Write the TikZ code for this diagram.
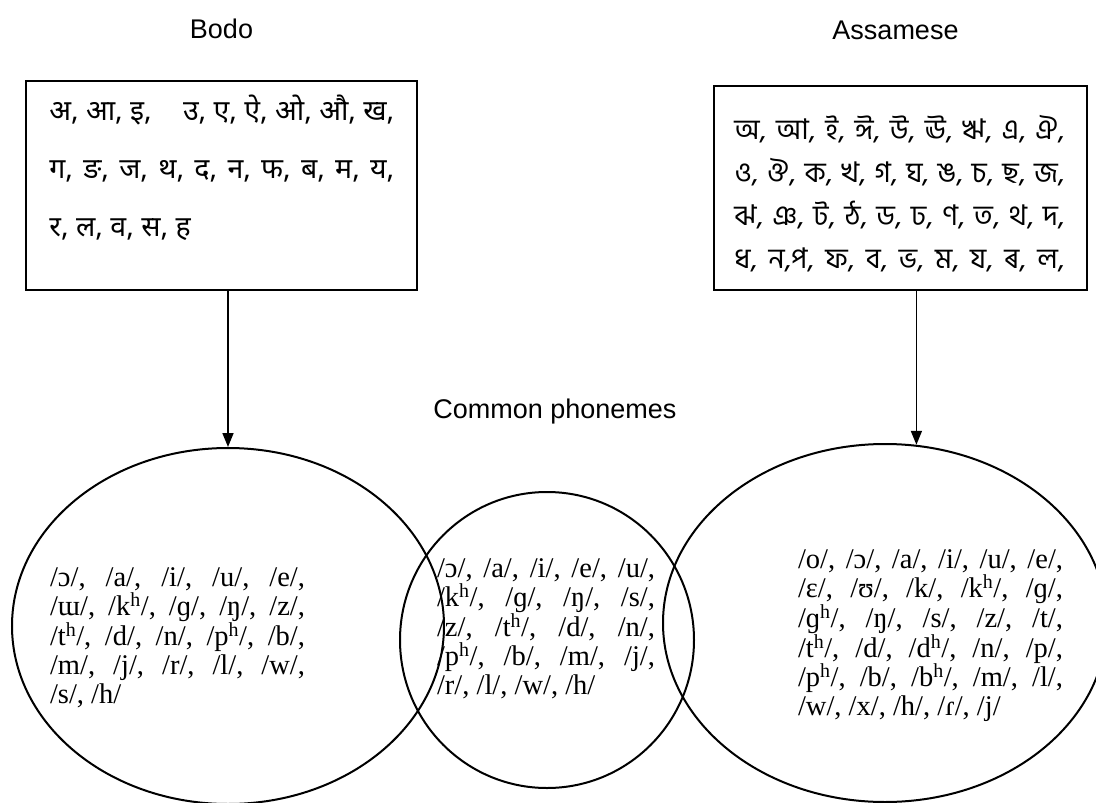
\documentclass[tikz,border=0pt]{standalone}
\usepackage{fontspec}
\setmainfont{Liberation Serif}
\newfontfamily\labelfont{Liberation Sans}
\newfontfamily\devfont[Script=Devanagari]{Noto Sans}
\newfontfamily\bengfont[Script=Bengali]{Hind Siliguri}
\usetikzlibrary{arrows.meta, positioning, shapes.geometric}

% aspirated mark and a row stretched to a fixed width
\newcommand{\asp}{\textsuperscript{h}}
\newcommand{\fillrow}[2]{\makebox[#1][s]{#2}}

\begin{document}
\begin{tikzpicture}[
        x=1pt, y=-1pt,
        setbox/.style={rectangle, draw, line width=1.7pt, inner sep=0pt},
        setring/.style={ellipse, draw, line width=2pt, inner sep=0pt},
        heading/.style={font=\labelfont\fontsize{27}{32}\selectfont, inner sep=0pt},
        devlist/.style={font=\devfont\fontsize{28.5}{58}\selectfont, align=left, inner sep=0pt},
        bnlist/.style={font=\bengfont\fontsize{28.5}{43}\selectfont, align=left, inner sep=0pt},
        phonlist/.style={font=\fontsize{28.5}{29}\selectfont, align=left, inner sep=0pt},
        link/.style={draw, line width=1.7pt, -{Triangle[length=14pt, width=11pt]}}
    ]
    \useasboundingbox (0,0) rectangle (1096,803);
    \clip (0,0) rectangle (1096,803);

    % letter inventories
    \node[setbox, minimum width=391pt, minimum height=209pt] (bodo_box) at (221.5,185.5) {};
    \node[setbox, minimum width=373pt, minimum height=204pt] (assamese_box) at (900.5,188) {};

    \node[devlist, anchor=north west] (bodo_letters) at ([shift={(24,15)}]bodo_box.north west)
        {\fillrow{345pt}{अ, आ, इ,\hspace{24pt} उ, ए, ऐ, ओ, औ, ख,}\\
         \fillrow{345pt}{ग, ङ, ज, थ, द, न, फ, ब, म, य,}\\
         र, ल, व, स, ह};
    \node[bnlist, anchor=north west] (assamese_letters) at ([shift={(21,30)}]assamese_box.north west)
        {\fillrow{330pt}{অ, আ, ই, ঈ, উ, ঊ, ঋ, এ, ঐ,}\\
         \fillrow{330pt}{ও, ঔ, ক, খ, গ, ঘ, ঙ, চ, ছ, জ,}\\
         \fillrow{330pt}{ঝ, ঞ, ট, ঠ, ড, ঢ, ণ, ত, থ, দ,}\\
         \fillrow{330pt}{ধ, ন,প, ফ, ব, ভ, ম, য, ৰ, ল,}};

    \node[heading, above=41pt of bodo_box] (bodo_title) {Bodo};
    \node[heading, above=45pt of assamese_box, xshift=-5pt] (assamese_title) {Assamese};

    % phoneme sets
    \node[setring, minimum width=432pt, minimum height=356pt] (bodo_set) at (228,626) {};
    \node[setring, minimum width=294pt, minimum height=296pt] (common_set) at (547,640) {};
    \node[setring, minimum width=444pt, minimum height=358pt] (assamese_set) at (885,623) {};

    \node[heading, above=67pt of common_set, xshift=8pt] (common_title) {Common phonemes};

    \node[phonlist] (bodo_phon) at ([shift={(-50.5,12)}]bodo_set.center)
        {\fillrow{255pt}{/ɔ/, /a/, /i/, /u/, /e/,}\\
         \fillrow{255pt}{/ɯ/, /k\asp/, /ɡ/, /ŋ/, /z/,}\\
         \fillrow{255pt}{/t\asp/, /d/, /n/, /p\asp/, /b/,}\\
         \fillrow{255pt}{/m/, /j/, /r/, /l/, /w/,}\\
         /s/, /h/};
    \node[phonlist] (common_phon) at ([shift={(-1,-11)}]common_set.center)
        {\fillrow{218pt}{/ɔ/, /a/, /i/, /e/, /u/,}\\
         \fillrow{218pt}{/k\asp/, /ɡ/, /ŋ/, /s/,}\\
         \fillrow{218pt}{/z/, /t\asp/, /d/, /n/,}\\
         \fillrow{218pt}{/p\asp/, /b/, /m/, /j/,}\\
         /r/, /l/, /w/, /h/};
    \node[phonlist] (assamese_phon) at ([shift={(45.5,13)}]assamese_set.center)
        {\fillrow{265pt}{/o/, /ɔ/, /a/, /i/, /u/, /e/,}\\
         \fillrow{265pt}{/ɛ/, /ʊ/, /k/, /k\asp/, /ɡ/,}\\
         \fillrow{265pt}{/ɡ\asp/, /ŋ/, /s/, /z/, /t/,}\\
         \fillrow{265pt}{/t\asp/, /d/, /d\asp/, /n/, /p/,}\\
         \fillrow{265pt}{/p\asp/, /b/, /b\asp/, /m/, /l/,}\\
         /w/, /x/, /h/, /ɾ/, /j/};

    % arrows
    \path[link] (bodo_set.north |- bodo_box.south) -- (bodo_set.north);
    \path[link] (assamese_set.80 |- assamese_box.south) -- (assamese_set.80);
\end{tikzpicture}
\end{document}
